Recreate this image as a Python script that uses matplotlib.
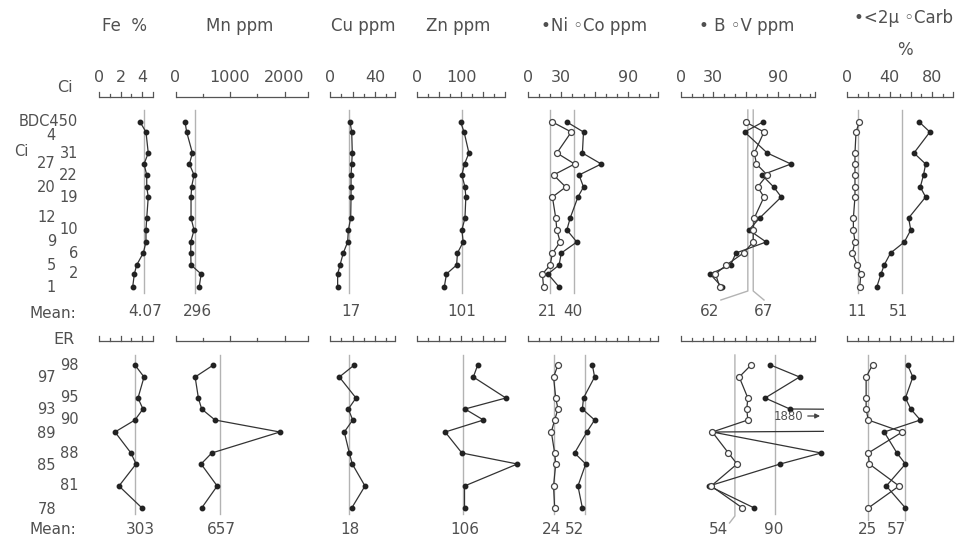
import matplotlib
matplotlib.use('Agg')
import matplotlib.pyplot as plt

plt.rcParams['font.family'] = ['DejaVu Sans']

W, H = 958, 539

# ---------------- data ----------------
ci_labels = ['BDC450', '4', '31', '27', '22', '20', '19', '12', '10', '9', '6', '5', '2', '1']
ci_depth = [122, 132, 153, 164, 175, 187, 197, 218, 230, 242, 253, 265, 274, 287]
er_labels = ['98', '97', '95', '93', '90', '89', '88', '85', '81', '78']
er_depth = [365, 377, 398, 409, 420, 432, 453, 464, 486, 508]

fe_ci = [3.80, 4.35, 4.56, 4.17, 4.42, 4.42, 4.56, 4.42, 4.35, 4.35, 4.10, 3.49, 3.27, 3.12]
fe_er = [3.33, 4.17, 3.61, 4.07, 3.33, 1.48, 2.96, 3.43, 1.85, 3.98]
mn_ci = [175, 205, 310, 255, 340, 295, 285, 285, 340, 280, 280, 285, 470, 435]
mn_er = [695, 360, 420, 480, 725, 1915, 665, 470, 765, 480]
cu_ci = [17.8, 19.3, 19.8, 19.3, 18.7, 18.7, 18.7, 18.4, 16.3, 15.7, 11.8, 8.9, 6.8, 6.8]
cu_er = [21.6, 8.3, 23.1, 16.3, 20.2, 12.7, 17.2, 19.8, 31.1, 19.3]
zn_ci = [99, 107, 118, 108, 102, 109, 111, 109, 102, 105, 92, 90, 67, 62]
zn_er = [138, 128, 202, 109, 151, 64, 102, 228, 108, 108]
ni_ci = [35, 50, 49, 66, 46, 50, 45, 38, 35, 44, 30, 28, 18, 28]
co_ci = [22, 39, 26, 42, 23, 34, 22, 25, 26, 29, 22, 20, 13, 14]
ni_er = [58, 60, 50, 49, 60, 53, 42, 52, 45, 49]
co_er = [27, 23, 25, 27, 24, 21, 24, 25, 23, 24]
b_ci = [76, 59, 80, 102, 75, 86, 93, 73, 63, 79, 51, 46, 27, 38]
v_ci = [60, 77, 68, 70, 80, 71, 77, 68, 67, 67, 58, 42, 32, 36]
b_er = [83, 110, 78, 101, 1880, 29, 130, 92, 26, 68]
v_er = [65, 54, 62, 61, 62, 29, 44, 52, 28, 57]
clay_ci = [68, 78, 63, 74, 72, 69, 74, 58, 60, 54, 41, 35, 32, 28]
carb_ci = [11.6, 8.5, 7.5, 7.5, 7.5, 7.5, 7.5, 6, 6, 7.5, 5, 9.7, 13, 12]
clay_er = [57, 62, 55, 60, 69, 35, 47, 55, 37, 55]
carb_er = [24, 18, 18, 18, 20, 52, 20, 21, 49, 20]

# mean lines (as drawn) and mean labels
fe_mean = [4.15, 3.3];   fe_mean_txt = ['4.07', '303']
mn_mean = [360, 815];    mn_mean_txt = ['296', '657']
cu_mean = [17.2, 17.2];  cu_mean_txt = ['17', '18']
zn_mean = [103, 105];    zn_mean_txt = ['101', '106']
nico_mean_ci = [20, 41]; nico_txt_ci = ['21', '40']
nico_mean_er = [23.5, 51.5]; nico_txt_er = ['24', '52']
bv_mean_ci = [62, 67];   bv_txt_ci = ['62', '67']
bv_mean_er = [50, 87];   bv_txt_er = ['54', '90']
cc_mean_ci = [10, 52];   cc_txt_ci = ['11', '51']
cc_mean_er = [20, 54.5]; cc_txt_er = ['25', '57']

# ---------------- style ----------------
TXT = '#505050'
LINE = '#333333'
MEANC = '#b3b3b3'
BARC = '#555555'
Y_TOPBAR, Y_ERBAR = 97, 341
Y_TICKLAB = 77
CI_SPAN = (110, 293)
ER_SPAN = (355, 514)

fig = plt.figure(figsize=(W / 100, H / 100), dpi=100)
frame = fig.add_axes([0, 0, 1, 1])
frame.set_xlim(0, W)
frame.set_ylim(H, 0)
frame.axis('off')


def col_axes(x0, ppu, xmax):
    ax = fig.add_axes([x0 / W, 0, xmax * ppu / W, 1])
    ax.set_xlim(0, xmax)
    ax.set_ylim(H, 0)
    ax.axis('off')
    return ax


def scale_bar(ax, y, ticks, tall, end):
    ax.plot([0, end], [y, y], color=BARC, lw=0.9, clip_on=False, solid_capstyle='butt')
    for t in ticks:
        h = 5 if t in tall else 3
        ax.plot([t, t], [y, y - h], color=BARC, lw=0.9, clip_on=False)


def tick_labels(ax, labels):
    for v, s in labels:
        ax.text(v, Y_TICKLAB, s, ha='center', va='center', fontsize=11.5, color=TXT)


def series(ax, vals, depth, filled=True, clip=False):
    if filled:
        ax.plot(vals, depth, color=LINE, lw=0.9, marker='o', ms=3.2, mfc='#222222',
                mec='#222222', clip_on=clip, zorder=3)
    else:
        ax.plot(vals, depth, color=LINE, lw=0.9, marker='o', ms=4.3, mfc='white',
                mec='#444444', mew=0.9, clip_on=clip, zorder=4)


def mean_line(ax, v, span):
    ax.plot([v, v], list(span), color=MEANC, lw=1.0, clip_on=False, zorder=1)


# ---------------- columns ----------------
# Fe
ax = col_axes(99, 10.8, 6)
scale_bar(ax, Y_TOPBAR, [0, 1, 2, 3, 4, 5], [0, 2, 4, 5], 5)
scale_bar(ax, Y_ERBAR, [0, 1, 2, 3, 4, 5], [0, 2, 4, 5], 5)
tick_labels(ax, [(0, '0'), (2, '2'), (4, '4')])
series(ax, fe_ci, ci_depth); series(ax, fe_er, er_depth)
mean_line(ax, fe_mean[0], CI_SPAN); mean_line(ax, fe_mean[1], ER_SPAN)

# Mn
ax = col_axes(175.5, 0.0545, 2500)
mt = [0, 500, 1000, 1500, 2000, 2430]
scale_bar(ax, Y_TOPBAR, mt, [0, 1000, 2000, 2430], 2430)
scale_bar(ax, Y_ERBAR, mt, [0, 1000, 2000, 2430], 2430)
tick_labels(ax, [(0, '0'), (1000, '1000'), (2000, '2000')])
series(ax, mn_ci, ci_depth); series(ax, mn_er, er_depth)
mean_line(ax, mn_mean[0], CI_SPAN); mean_line(ax, mn_mean[1], ER_SPAN)

# Cu
ax = col_axes(330, 1.125, 60)
ct = [0, 10, 20, 30, 40, 50, 58]
scale_bar(ax, Y_TOPBAR, ct, [0, 20, 40, 58], 58)
scale_bar(ax, Y_ERBAR, ct, [0, 20, 40, 58], 58)
tick_labels(ax, [(0, '0'), (40, '40')])
series(ax, cu_ci, ci_depth); series(ax, cu_er, er_depth)
mean_line(ax, cu_mean[0], CI_SPAN); mean_line(ax, cu_mean[1], ER_SPAN)

# Zn
ax = col_axes(417, 0.44, 235)
zt = list(range(0, 201, 25))
scale_bar(ax, Y_TOPBAR, zt, [0, 50, 100, 150, 200], 200)
scale_bar(ax, Y_ERBAR, zt, [0, 50, 100, 150, 200], 200)
tick_labels(ax, [(0, '0'), (100, '100')])
series(ax, zn_ci, ci_depth); series(ax, zn_er, er_depth)
mean_line(ax, zn_mean[0], CI_SPAN); mean_line(ax, zn_mean[1], ER_SPAN)

# Ni / Co
ax = col_axes(528, 1.11, 120)
nt = list(range(0, 111, 10)) + [117]
scale_bar(ax, Y_TOPBAR, nt, [0, 30, 60, 90, 117], 117)
scale_bar(ax, Y_ERBAR, nt, [0, 30, 60, 90, 117], 117)
tick_labels(ax, [(0, '0'), (30, '30'), (90, '90')])
for v in nico_mean_ci:
    mean_line(ax, v, CI_SPAN)
for v in nico_mean_er:
    mean_line(ax, v, ER_SPAN)
series(ax, ni_ci, ci_depth); series(ax, co_ci, ci_depth, filled=False)
series(ax, ni_er, er_depth); series(ax, co_er, er_depth, filled=False)

# B / V
ax = col_axes(681, 1.078, 133)
bt = list(range(0, 121, 10)) + [124]
scale_bar(ax, Y_TOPBAR, bt, [0, 30, 60, 90, 124], 124)
scale_bar(ax, Y_ERBAR, bt, [0, 30, 60, 90, 124], 124)
tick_labels(ax, [(0, '0'), (30, '30'), (90, '90')])
# mean lines with bends toward their labels
ax.plot([bv_mean_ci[0], bv_mean_ci[0], bv_mean_ci[0] - 25], [CI_SPAN[0], 291, 300],
        color=MEANC, lw=1.0, clip_on=False, zorder=1)
ax.plot([bv_mean_ci[1], bv_mean_ci[1], bv_mean_ci[1] + 10], [CI_SPAN[0], 291, 300],
        color=MEANC, lw=1.0, clip_on=False, zorder=1)
ax.plot([bv_mean_er[0], bv_mean_er[0], bv_mean_er[0] - 5], [ER_SPAN[0], 516, 523],
        color=MEANC, lw=1.0, clip_on=False, zorder=1)
mean_line(ax, bv_mean_er[1], ER_SPAN)
series(ax, b_ci, ci_depth); series(ax, v_ci, ci_depth, filled=False)
series(ax, b_er, er_depth, clip=True); series(ax, v_er, er_depth, filled=False)
ax.annotate('1880', xy=(129, 416), xytext=(100, 416), ha='center', va='center',
            fontsize=8.5, color=TXT, annotation_clip=False,
            arrowprops=dict(arrowstyle='-|>', color='#444444', lw=0.9,
                            mutation_scale=7, shrinkA=1, shrinkB=0))

# <2µ / Carb
ax = col_axes(847, 1.0625, 104)
pt = list(range(0, 101, 10))
scale_bar(ax, Y_TOPBAR, pt, [0, 20, 40, 60, 80, 100], 100)
scale_bar(ax, Y_ERBAR, pt, [0, 20, 40, 60, 80, 100], 100)
tick_labels(ax, [(0, '0'), (40, '40'), (80, '80')])
for v in cc_mean_ci:
    mean_line(ax, v, CI_SPAN)
for v in cc_mean_er:
    mean_line(ax, v, (ER_SPAN[0], 520))
series(ax, clay_ci, ci_depth); series(ax, carb_ci, ci_depth, filled=False)
series(ax, clay_er, er_depth); series(ax, carb_er, er_depth, filled=False)

# ---------------- headers ----------------
hdr = dict(ha='center', va='center', fontsize=12, color=TXT)
frame.text(125, 26, 'Fe  %', **hdr)
frame.text(240, 26, 'Mn ppm', **hdr)
frame.text(363, 26, 'Cu ppm', **hdr)
frame.text(458, 26, 'Zn ppm', **hdr)
frame.text(594, 26, '•Ni ◦Co ppm', **hdr)
frame.text(747, 26, '• B ◦V ppm', **hdr)
frame.text(904, 18, '•<2µ ◦Carb', **hdr)
frame.text(905, 50, '%', **hdr)

frame.text(65, 88, 'Ci', ha='center', va='center', fontsize=11.5, color=TXT)
frame.text(64, 339, 'ER', ha='center', va='center', fontsize=11.5, color=TXT)
frame.text(21, 152, 'Ci', ha='center', va='center', fontsize=10.5, color=TXT)

# sample labels (alternating columns)
SL = 10.5
for i, (lab, y) in enumerate(zip(ci_labels, ci_depth)):
    if i == 0 or i in (2, 4, 6, 8, 10, 12):
        frame.text(78, y, lab, ha='right', va='center', fontsize=SL, color=TXT)
    else:
        frame.text(56, y + (4 if i == 1 else 0), lab, ha='right', va='center',
                   fontsize=SL, color=TXT)
for i, (lab, y) in enumerate(zip(er_labels, er_depth)):
    if i % 2 == 0:
        frame.text(79, y, lab, ha='right', va='center', fontsize=SL, color=TXT)
    else:
        frame.text(56, y + 1, lab, ha='right', va='center', fontsize=SL, color=TXT)

# mean labels
mk = dict(ha='center', va='center', fontsize=11, color=TXT)
frame.text(30, 313, 'Mean:', ha='left', va='center', fontsize=11, color=TXT)
frame.text(30, 530, 'Mean:', ha='left', va='center', fontsize=11, color=TXT)
top_pos = [145, 197, 351, 462, 548, 573, 710, 764, 857, 899]
top_txt = [fe_mean_txt[0], mn_mean_txt[0], cu_mean_txt[0], zn_mean_txt[0],
           nico_txt_ci[0], nico_txt_ci[1], bv_txt_ci[0], bv_txt_ci[1], cc_txt_ci[0], cc_txt_ci[1]]
for x, s in zip(top_pos, top_txt):
    frame.text(x, 311, s, **mk)
bot_pos = [140, 221, 350, 465, 552, 575, 719, 774, 868, 897]
bot_txt = [fe_mean_txt[1], mn_mean_txt[1], cu_mean_txt[1], zn_mean_txt[1],
           nico_txt_er[0], nico_txt_er[1], bv_txt_er[0], bv_txt_er[1], cc_txt_er[0], cc_txt_er[1]]
for x, s in zip(bot_pos, bot_txt):
    frame.text(x, 530, s, **mk)

fig.savefig('out.png', dpi=100)
